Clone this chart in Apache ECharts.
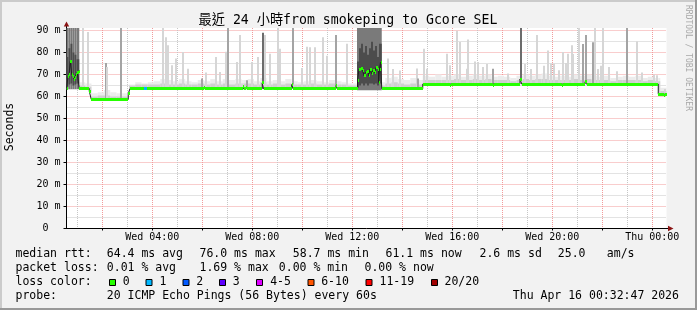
<!DOCTYPE html>
<html><head><meta charset="utf-8">
<script src="https://cdn.jsdelivr.net/npm/echarts@6/dist/echarts.min.js"></script>
<style>html,body{margin:0;padding:0;background:#f2f2f2}#c{width:697px;height:310px}</style>
</head><body><div id="c"></div>
<script>
// ---------- axes (hours since Wed 00:00) ----------
const X_MIN = 0.57, X_MAX = 24.57;
const Y_MIN = 0, Y_MAX = 91.2;
const xMinorTicks = [1,3,5,7,9,11,13,15,17,19,21,23];
const xMajorTicks = [2,4,6,8,10,12,14,16,18,20,22,24];
const xLabelHours = [4,8,12,16,20,24];
const xLabelTexts = ['Wed 04:00','Wed 08:00','Wed 12:00','Wed 16:00','Wed 20:00','Thu 00:00'];
const yMinorTicks = [5,15,25,35,45,55,65,75,85];
const yMajorTicks = [0,10,20,30,40,50,60,70,80,90];
const yLabelTexts = ['0\u00a0\u00a0','10 m','20 m','30 m','40 m','50 m','60 m','70 m','80 m','90 m'];

// ---------- median rtt (ms), step changes ----------
const medT = [0.57,0.63,0.67,0.72,0.78,0.82,0.87,0.91,0.95,1.00,1.05,1.08,1.48,1.56,3.04,3.11,3.67,3.80,6.07,6.11,7.61,7.65,7.76,7.80,8.40,8.45,9.58,9.63,11.35,11.40,12.21,12.27,12.35,12.41,12.47,12.53,12.59,12.65,12.71,12.77,12.83,12.89,12.95,13.01,13.05,13.09,13.13,13.18,14.82,15.91,15.95,17.63,17.67,18.71,18.78,20.37,20.41,21.31,21.37,24.24,24.47,24.51];
const medV = [63.6,69.0,70.0,76.0,70.0,69.2,68.0,68.5,70.0,71.0,71.5,63.7,62.5,58.7,61.5,63.6,63.6,63.6,64.3,63.6,64.5,63.6,64.3,63.6,66.2,63.6,65.5,63.6,65.0,63.6,67.5,72.5,73.0,72.0,69.5,71.0,71.5,69.5,72.5,70.5,72.0,71.0,73.3,72.5,66.5,72.5,75.6,63.6,65.7,65.2,65.7,65.2,65.7,68.0,65.7,65.2,65.7,66.7,65.7,61.1,60.5,61.1];
const medLoss = [0,0,0,0,0,0,0,0,0,0,0,0,0,0,0,0,1,0,0,0,0,0,0,0,0,0,0,0,0,0,0,0,0,0,0,0,0,0,0,0,0,0,0,0,0,0,0,0,0,0,0,0,0,0,0,0,0,0,0,0,0,0];

// ---------- smoke: 15-minute bins ----------
const SMOKE_BIN_START = 0.57, SMOKE_BIN_HOURS = 0.25;
const smokeMax = [64,64,66.5,66,61.5,62,63,62,61.5,61.5,
 65.5,66.5,66,66.5,67,68,67.5,67,68,67,
 66.5,67.5,67,68,67,68,67.5,68,67.5,68,
 67,68.5,67,67.5,67,68,67,66.5,67,67.5,
 67,66.5,67.5,67,66.5,66,66,64,64,64,
 66.5,68.5,69,68,67.5,68.5,67.5,69.5,69,70,
 69,69.5,70,69,69.5,70,69.5,70,69,69.5,
 69,68.5,69.5,70,69.5,70,70.5,69.5,69,69.5,
 69,70,69.5,70,69.5,69,69.5,68.5,69,69.5,
 69,69.5,68.5,69,68.5,64];
const smokeQ3 = [0,0,65,64.5,60,60.5,60.5,60,60,60,
 65,65.5,65.5,65.5,65.5,66,65.5,65.5,66,65.5,
 65.5,66,65.5,66,65.5,66,65.5,66,66,66,
 65.5,66.5,65.5,66,65.5,66,65.5,65.5,65.5,66,
 65.5,65.5,66,65.5,65.5,65,65,0,0,0,
 65,66,66.5,66,65.5,66,65.5,67.5,67.5,67.5,
 67.5,67.5,68,67.5,67.5,68,67.5,68,67.5,67.5,
 67.5,67,67.5,68,67.5,68,68,67.5,67.5,67.5,
 67.5,68,67.5,68,67.5,67.5,67.5,67,67.5,67.5,
 67.5,67.5,67,67.5,67,62.5];

// ---------- smoke: single-sample spikes (time, max ping, density 0 light/1 mid/2 dark) ----------
const spikeT = [1.24,1.44,2.13,2.20,2.74,4.44,4.54,4.62,4.78,4.94,5.22,5.44,5.98,6.14,6.55,6.71,6.94,7.02,7.38,7.51,7.78,7.98,8.22,8.44,8.50,8.71,9.04,9.11,9.62,9.98,10.20,10.31,10.51,10.82,11.00,11.35,11.78,
 13.42,13.64,13.91,14.58,14.64,14.87,15.00,15.78,15.91,16.17,16.31,16.58,16.64,16.91,17.02,17.24,17.38,17.64,18.24,18.74,18.91,19.13,19.38,19.68,19.82,19.95,20.07,20.27,20.44,20.54,20.64,20.78,20.84,21.08,21.24,21.34,21.64,21.69,21.84,21.95,22.04,22.28,22.58,23.00,23.38,23.51,23.60,24.08,24.18,24.51];
const spikeTop = [91.2,89.4,75.3,73.5,91.2,91.2,87,83.3,74.2,77.3,80.3,72.7,68.2,71,78,71.2,80.4,91.2,75.7,88,67.4,75.7,78,89,88,79.5,91.2,81.8,91.2,73,82.7,82.5,82.5,87,78.6,88,84,
 77.3,72.5,71.9,72.8,68.2,81.8,72.7,79.5,74.2,90,84.8,72.7,86,76,75.7,73.5,74.8,72.7,70.5,91.2,74.8,72.5,88,74,81,75,74.9,72,80.3,75.3,79.5,83.3,79.4,91.2,83.9,88,84.7,91.2,72.5,74,91.2,73.5,71.5,91.2,85.1,66.6,71,70,69.7,63.5];
const spikeShade = [0,0,1,0,1,0,0,0,0,0,0,0,1,0,0,0,0,1,0,0,1,0,0,2,0,0,0,0,1,0,0,0,0,0,0,1,0,
 0,0,0,0,1,0,0,0,0,0,0,0,0,0,0,0,0,1,0,2,0,0,0,0,0,0,0,0,0,0,0,0,0,0,1,1,1,0,0,0,0,0,0,1,0,0,0,0,0,0];

// ---------- smoke: dense high-loss bursts (per column) ----------
const burstStart = [0.57,0.65,0.73,0.81,0.89,0.97,12.19,12.27,12.35,12.43,12.51,12.59,12.67,12.75,12.83,12.91,12.99,13.07];
const burstEnd   = [0.65,0.73,0.81,0.89,0.97,1.08,12.27,12.35,12.43,12.51,12.59,12.67,12.75,12.83,12.91,12.99,13.07,13.18];
const burstLo = [63.3,63.3,63.3,63.3,63.3,63.3,62.9,62.9,62.9,62.9,62.9,62.9,62.9,62.9,62.9,62.9,62.9,62.9];
const burstQ1 = [64.5,65.5,66,65,65.5,66,64,65,66,65,66,65,66,66,65.5,66,65,66];
const burstQ3 = [78,82,84,80,79,77,76,82,84,80,83,79,82,85,81,83,78,84];
const burstHi = [91.2,91.2,91.2,91.2,91.2,91.2,91.2,91.2,91.2,91.2,91.2,91.2,91.2,91.2,91.2,91.2,91.2,91.2];

// ---------- legend ----------
const LOSS_LABELS = ['0','1','2','3','4-5','6-10','11-19','20/20'];
const LOSS_COLORS = ['#26ff00','#00b8ff','#0059ff','#5e00ff','#dd00ff','#ff5500','#ff0000','#a10000'];
const SMOKE_COLORS = ['#ececec','#cfcfcf','#d6d6d6','#a4a4a4','#6c6c6c','#7a7a7a','#4c4c4c'];

// ---------- build ----------
function segEnd(j){ return j + 1 < medT.length ? medT[j+1] : X_MAX; }
function medianAt(t){ let v = medV[0]; for (let i = 0; i < medT.length; i++) if (medT[i] <= t) v = medV[i]; return v; }

const smokeRects = [];
const coreRects = [];
for (let i = 0; i < smokeMax.length; i++) {
  const b0 = SMOKE_BIN_START + SMOKE_BIN_HOURS * i, b1 = b0 + SMOKE_BIN_HOURS;
  for (let j = 0; j < medT.length; j++) {
    const o0 = Math.max(b0, medT[j]), o1 = Math.min(b1, segEnd(j));
    if (o1 <= o0) continue;
    const lo = medV[j] - 0.3;
    if (smokeMax[i] > lo) smokeRects.push([o0, o1, lo, smokeMax[i], 0]);
    if (smokeQ3[i] > lo) coreRects.push([o0, o1, lo, smokeQ3[i], 1]);
  }
}
const spikeRects = spikeT.map((t, i) => [t - 0.035, t + 0.035, medianAt(t), spikeTop[i], 2 + spikeShade[i]]);
const burstRects = [];
burstStart.forEach((s, i) => {
  burstRects.push([s, burstEnd[i], burstLo[i], burstHi[i], 5]);
  burstRects.push([s, burstEnd[i], burstQ1[i], burstQ3[i], 6]);
});
const allSmoke = smokeRects.concat(coreRects, spikeRects, burstRects);

const medLine = medT.map((t, i) => [t, medV[i]]);
medLine.push([X_MAX, medV[medV.length - 1]]);
const medSegs = medT.map((t, i) => [t, segEnd(i), medV[i], medLoss[i]]);

const FONT = "'DejaVu Sans Mono', monospace";
const LEG = "11.5px " + FONT;

function txt(text, x, y, extra) {
  return Object.assign({ type: 'text', x: x, y: y, silent: true,
    style: Object.assign({ text: text, font: LEG, fill: '#000', align: 'left', textAlign: 'left',
      verticalAlign: 'middle', textVerticalAlign: 'middle' }, extra || {}) });
}

const graphics = [
  // frame
  { type: 'rect', shape: { x: 0, y: 0, width: 697, height: 2 }, style: { fill: '#cbcbcb' }, silent: true },
  { type: 'rect', shape: { x: 0, y: 0, width: 2, height: 310 }, style: { fill: '#cbcbcb' }, silent: true },
  { type: 'rect', shape: { x: 695, y: 0, width: 2, height: 310 }, style: { fill: '#999999' }, silent: true },
  { type: 'rect', shape: { x: 0, y: 308, width: 697, height: 2 }, style: { fill: '#999999' }, silent: true },
  // title
  txt('最近 24 小時from smokeping to Gcore SEL', 348, 21,
      { font: "13.2px 'DejaVu Sans Mono','Noto Sans CJK TC',monospace", align: 'center', textAlign: 'center' }),
  // side labels
  Object.assign(txt('Seconds', 10, 127, { align: 'center', textAlign: 'center' }), { rotation: Math.PI / 2 }),
  Object.assign(txt('RRDTOOL / TOBI OETIKER', 688.5, 5, { font: "8px " + FONT, fill: '#a8a8a8' }), { rotation: -Math.PI / 2 }),
  // axis arrows
  { type: 'line', shape: { x1: 66.5, y1: 26, x2: 66.5, y2: 28.5 }, style: { stroke: '#000', lineWidth: 1 }, silent: true },
  { type: 'polygon', shape: { points: [[63.8, 26.5], [69.2, 26.5], [66.5, 21.5]] }, style: { fill: '#8b1414' }, silent: true },
  { type: 'line', shape: { x1: 666, y1: 228.5, x2: 668.5, y2: 228.5 }, style: { stroke: '#000', lineWidth: 1 }, silent: true },
  { type: 'polygon', shape: { points: [[668, 225.8], [668, 231.2], [673.5, 228.5]] }, style: { fill: '#8b1414' }, silent: true },
  // legend lines
  txt('median rtt:', 15.5, 254.3), txt('64.4 ms avg', 106.8, 254.3), txt('76.0 ms max', 199.5, 254.3),
  txt('58.7 ms min', 292.8, 254.3), txt('61.1 ms now', 385.5, 254.3), txt('2.6 ms sd', 479.5, 254.3),
  txt('25.0', 557.8, 254.3), txt('am/s', 606.8, 254.3),
  txt('packet loss:', 15.5, 268.3), txt('0.01 % avg', 106.8, 268.3), txt('1.69 % max', 199.5, 268.3),
  txt('0.00 % min', 278.8, 268.3), txt('0.00 % now', 364.5, 268.3),
  txt('loss color:', 15.5, 282.3),
  txt('probe:', 15.5, 296), txt('20 ICMP Echo Pings (56 Bytes) every 60s', 106.8, 296),
  txt('Thu Apr 16 00:32:47 2026', 512.8, 296)
];
const boxX = [109.5, 146, 183, 219.5, 256.5, 308, 366, 431.5];
const boxLabelX = [122.8, 159.5, 196.2, 232.8, 270.2, 321.2, 379.5, 444.5];
LOSS_LABELS.forEach((lab, i) => {
  graphics.push({ type: 'rect', shape: { x: boxX[i], y: 279.5, width: 6, height: 6 },
    style: { fill: LOSS_COLORS[i], stroke: '#000', lineWidth: 1 }, silent: true });
  graphics.push(txt(lab, boxLabelX[i], 282.3));
});

const gridLineRed = { color: '#f29b9b', type: [1, 1], width: 1 };
const gridLineGray = { color: '#c6c6c6', type: [1, 1], width: 1 };

const option = {
  animation: false,
  backgroundColor: '#f2f2f2',
  grid: { left: 66.5, top: 28, width: 600, height: 200.5, show: true, backgroundColor: '#ffffff', borderWidth: 0, containLabel: false },
  xAxis: [
    { type: 'value', min: X_MIN, max: X_MAX, position: 'bottom',
      axisLine: { show: true, onZero: false, lineStyle: { color: '#000', width: 1 } },
      axisTick: { show: false, customValues: xMinorTicks },
      axisLabel: { show: false },
      splitLine: { show: true, lineStyle: gridLineGray } },
    { type: 'value', min: X_MIN, max: X_MAX, position: 'bottom',
      axisLine: { show: false, onZero: false },
      axisTick: { show: true, customValues: xMajorTicks, length: 2, lineStyle: { color: '#000' } },
      axisLabel: { show: true, customValues: xLabelHours, margin: 4, fontFamily: FONT, fontSize: 10, color: '#000',
        formatter: v => xLabelTexts[xLabelHours.indexOf(Math.round(v))] },
      splitLine: { show: true, lineStyle: gridLineRed } }
  ],
  yAxis: [
    { type: 'value', min: Y_MIN, max: Y_MAX, position: 'left',
      axisLine: { show: true, onZero: false, lineStyle: { color: '#000', width: 1 } },
      axisTick: { show: false, customValues: yMinorTicks },
      axisLabel: { show: false },
      splitLine: { show: true, lineStyle: gridLineGray } },
    { type: 'value', min: Y_MIN, max: Y_MAX, position: 'left',
      axisLine: { show: false, onZero: false },
      axisTick: { show: true, customValues: yMajorTicks, length: 3, lineStyle: { color: '#000' } },
      axisLabel: { show: true, customValues: yMajorTicks, margin: 6, fontFamily: FONT, fontSize: 10, color: '#000',
        formatter: v => yLabelTexts[yMajorTicks.indexOf(Math.round(v))] },
      splitLine: { show: true, lineStyle: gridLineRed } }
  ],
  series: [
    { type: 'custom', name: 'smoke', xAxisIndex: 0, yAxisIndex: 0, clip: true, silent: true, z: 2,
      encode: { x: [0, 1], y: [2, 3] },
      data: allSmoke,
      renderItem: function (params, api) {
        const a = api.coord([api.value(0), api.value(3)]);
        const b = api.coord([api.value(1), api.value(2)]);
        const kind = api.value(4);
        let x = a[0], w = b[0] - a[0];
        if (kind >= 2 && kind <= 4) { x = Math.round(a[0]); w = Math.max(1, Math.round(b[0] - a[0])); }
        return { type: 'rect', shape: { x: x, y: a[1], width: w, height: b[1] - a[1] },
          style: { fill: SMOKE_COLORS[kind] } };
      } },
    { type: 'line', name: 'median', xAxisIndex: 0, yAxisIndex: 0, step: 'end', symbol: 'none', silent: true, z: 3,
      data: medLine, lineStyle: { color: '#202020', width: 1 } },
    { type: 'custom', name: 'loss', xAxisIndex: 0, yAxisIndex: 0, clip: true, silent: true, z: 4,
      encode: { x: [0, 1], y: 2 },
      data: medSegs,
      renderItem: function (params, api) {
        const a = api.coord([api.value(0), api.value(2)]);
        const b = api.coord([api.value(1), api.value(2)]);
        const x0 = Math.round(a[0]), x1 = Math.max(x0 + 1, Math.round(b[0]));
        return { type: 'rect', shape: { x: x0, y: Math.round(a[1] - 1.5), width: x1 - x0, height: 3 },
          style: { fill: LOSS_COLORS[api.value(3)] } };
      } }
  ],
  graphic: graphics
};

const chart = echarts.init(document.getElementById('c'), null, { renderer: 'canvas', width: 697, height: 310 });
chart.setOption(option);
</script>
</body></html>
